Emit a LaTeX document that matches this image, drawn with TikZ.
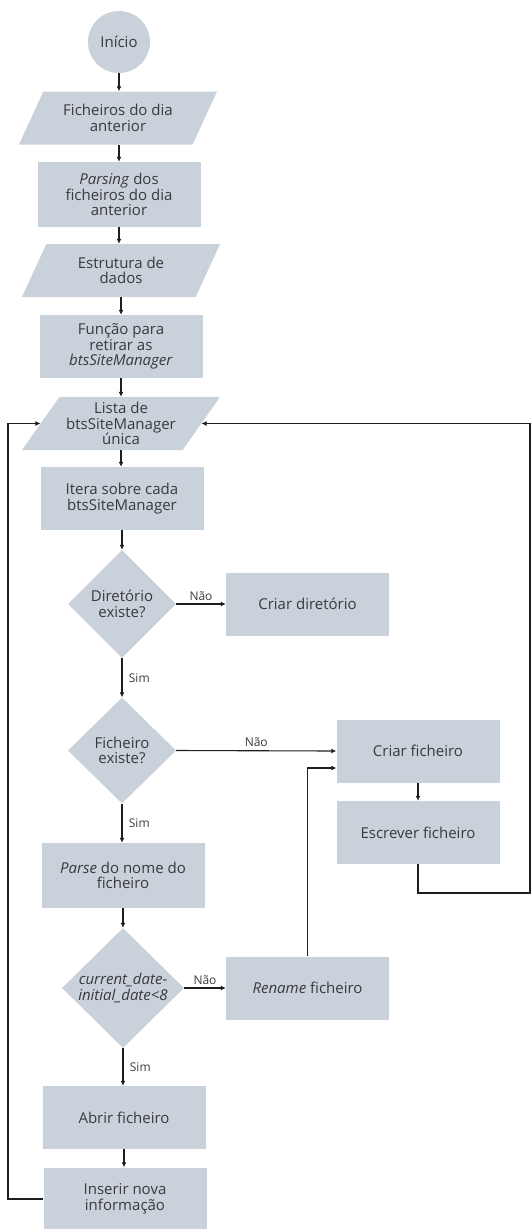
\documentclass[tikz,border=0pt]{standalone}
\usepackage{fontspec}
\setmainfont{Open Sans}
\usetikzlibrary{shapes.geometric,arrows.meta}

\definecolor{boxgray}{RGB}{201,209,219}
\definecolor{txtgray}{RGB}{58,58,58}
\definecolor{linegray}{RGB}{30,30,30}

\begin{document}
\begin{tikzpicture}[x=1pt, y=-1pt,
	proc/.style={rectangle, fill=boxgray, text=txtgray, align=center, inner sep=2pt,
		minimum width=163pt, minimum height=63pt, font=\fontsize{15}{15.5}\selectfont},
	io/.style={trapezium, trapezium left angle=50, trapezium right angle=130,
		trapezium stretches body, fill=boxgray, text=txtgray, align=center, inner sep=1pt,
		minimum width=198pt, minimum height=53pt, font=\fontsize{15}{15.5}\selectfont},
	dec/.style={diamond, aspect=1, fill=boxgray, text=txtgray, align=center, inner sep=0pt,
		font=\fontsize{15}{15.5}\selectfont},
	arr/.style={draw=linegray, line width=1.1pt, -{Latex[length=5pt,width=5pt]}},
	lbl/.style={text=txtgray, font=\fontsize{12}{12}\selectfont}]

	\useasboundingbox (0,0) rectangle (531,1229);

	% main column
	\node [circle, fill=boxgray, text=txtgray, minimum size=62pt, inner sep=0pt,
		font=\fontsize{15}{15.5}\selectfont] (start) at (119, 42) {Início};
	\node [io] (in1) at (118, 118) {Ficheiros do dia\\anterior};
	\node [proc, minimum height=65pt] (parse1) at (119, 194.5) {\textit{Parsing} dos\\ficheiros do dia\\anterior};
	\node [io] (data) at (121, 270.5) {Estrutura de\\dados};
	\node [proc] (func) at (121, 346.5) {Função para\\retirar as\\\textit{btsSiteManager}};
	\node [io] (list) at (121, 423.5) {Lista de\\btsSiteManager\\única};
	\node [proc] (iter) at (122, 498.5) {Itera sobre cada\\btsSiteManager};

	\node [dec, minimum width=108pt, minimum height=108pt] (dir) at (122, 604) {Diretório\\existe?};
	\node [dec, minimum width=108pt, minimum height=106pt] (file) at (122, 750.5) {Ficheiro\\existe?};
	\node [proc, minimum height=65pt] (parsename) at (123, 875.5) {\textit{Parse} do nome do\\ficheiro};
	\node [dec, minimum width=122pt, minimum height=120pt] (date) at (123, 988) {\itshape current\_date-\\\itshape initial\_date<8};
	\node [proc] (open) at (124, 1117.5) {Abrir ficheiro};
	\node [proc] (insert) at (125, 1199) {Inserir nova\\informação};

	% right side
	\node [proc] (mkdir) at (307.5, 604) {Criar diretório};
	\node [proc] (mkfile) at (418, 751) {Criar ficheiro};
	\node [proc] (write) at (418, 832.5) {Escrever ficheiro};
	\node [proc] (rename) at (307.5, 988) {\textit{Rename} ficheiro};

	% arrows down the column
	\draw [arr] (start.south) -- (start.south |- in1.north);
	\draw [arr] (in1.south -| parse1) -- (parse1.north);
	\draw [arr] (parse1.south) -- (parse1.south |- data.north);
	\draw [arr] (data.south) -- (data.south |- func.north);
	\draw [arr] (func.south) -- (func.south |- list.north);
	\draw [arr] (list.south) -- (list.south |- iter.north);
	\draw [arr] (iter.south) -- (iter.south |- dir.north);
	\draw [arr] (dir.south) -- node [lbl, right, xshift=3pt] {Sim} (file.north);
	\draw [arr] (file.south) -- node [lbl, right, xshift=3pt] {Sim} (file.south |- parsename.north);
	\draw [arr] (parsename.south) -- (date.north);
	\draw [arr] (date.south) -- node [lbl, right, xshift=3pt] {Sim} (date.south |- open.north);
	\draw [arr] (open.south) -- (open.south |- insert.north);

	% branches
	\draw [arr] (dir.east) -- node [lbl, above] {Não} (mkdir.west);
	\draw [arr] (file.east) -- node [lbl, above] {Não} (mkfile.west);
	\draw [arr] (date.east) -- node [lbl, above] {Não} (rename.west);
	\draw [arr] (mkfile.south) -- (write.north);
	\draw [arr] (rename.north) |- ([yshift=-17pt]mkfile.west);

	% loops back to the list
	\coordinate (lft) at (8, 1199);
	\coordinate (rgt) at (530, 893);
	\draw [arr] (insert.west) -- (lft) |- (list.west);
	\draw [arr] (write.south) |- (rgt) |- (list.east);

\end{tikzpicture}
\end{document}
